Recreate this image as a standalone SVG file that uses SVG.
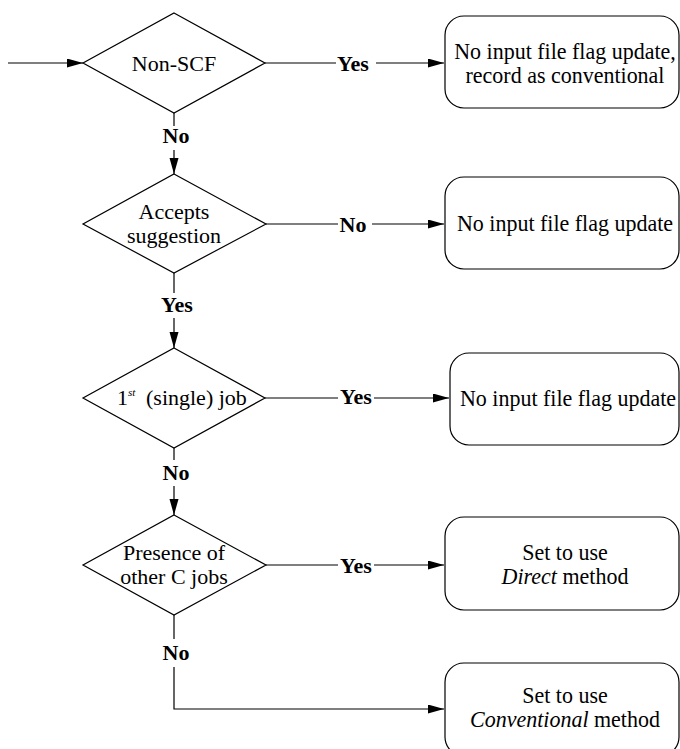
<svg xmlns="http://www.w3.org/2000/svg" width="680" height="749" viewBox="0 0 680 749">
<defs>
<marker id="arr" markerUnits="userSpaceOnUse" markerWidth="16" markerHeight="10" refX="16" refY="4.5" orient="auto">
<path d="M0,0 L16,4.5 L0,9 z" fill="#000"/>
</marker>
<style>
.shape{fill:#fff;stroke:#000;stroke-width:1.2}
.ln{fill:none;stroke:#000;stroke-width:1.2}
.t{font-family:"Liberation Serif","Times New Roman",serif;font-size:22px;fill:#000}
.c{text-anchor:middle}
.lb{font-family:"Liberation Serif","Times New Roman",serif;font-size:22px;font-weight:bold;fill:#000;text-anchor:middle}
</style>
</defs>
<rect width="680" height="749" fill="#fff"/>
<g id="connectors">
<line class="ln" x1="8" y1="63" x2="83" y2="63" marker-end="url(#arr)"/>
<line class="ln" x1="265" y1="63" x2="336" y2="63"/>
<line class="ln" x1="376" y1="63" x2="444" y2="63" marker-end="url(#arr)"/>
<line class="ln" x1="174" y1="113" x2="174" y2="126"/>
<line class="ln" x1="174" y1="150" x2="174" y2="174" marker-end="url(#arr)"/>
<line class="ln" x1="266" y1="224" x2="338" y2="224"/>
<line class="ln" x1="372" y1="224" x2="444" y2="224" marker-end="url(#arr)"/>
<line class="ln" x1="174" y1="273" x2="174" y2="293"/>
<line class="ln" x1="174" y1="318" x2="174" y2="348" marker-end="url(#arr)"/>
<line class="ln" x1="265" y1="398" x2="338" y2="398"/>
<line class="ln" x1="374" y1="398" x2="449" y2="398" marker-end="url(#arr)"/>
<line class="ln" x1="174" y1="448" x2="174" y2="460"/>
<line class="ln" x1="174" y1="486" x2="174" y2="515" marker-end="url(#arr)"/>
<line class="ln" x1="266" y1="565" x2="338" y2="565"/>
<line class="ln" x1="374" y1="565" x2="444" y2="565" marker-end="url(#arr)"/>
<line class="ln" x1="174" y1="615" x2="174" y2="639"/>
<polyline class="ln" points="174,667 174,709 444,709" marker-end="url(#arr)"/>
<text class="lb" x="353" y="71">Yes</text>
<text class="lb" x="176" y="143">No</text>
<text class="lb" x="353" y="232">No</text>
<text class="lb" x="177" y="312">Yes</text>
<text class="lb" x="356" y="404">Yes</text>
<text class="lb" x="176" y="480">No</text>
<text class="lb" x="356" y="573">Yes</text>
<text class="lb" x="176" y="660">No</text>
</g>
<g id="d1">
<polygon class="shape" points="174,13 265,63 174,113 83,63"/>
<text class="t c" x="174" y="71">Non-SCF</text>
</g>
<g id="b1">
<rect class="shape" x="445" y="16" width="234" height="92" rx="19"/>
<text class="t c" transform="translate(565,59) scale(1,1.08)">No input file flag update,</text>
<text class="t c" transform="translate(565,83) scale(1,1.08)">record as conventional</text>
</g>
<g id="d2">
<polygon class="shape" points="174,174 266,224 174,273 83,224"/>
<text class="t c" x="174" y="219">Accepts</text>
<text class="t c" x="174" y="243">suggestion</text>
</g>
<g id="b2">
<rect class="shape" x="445" y="177" width="234" height="92" rx="19"/>
<text class="t c" transform="translate(565,231) scale(1,1.08)">No input file flag update</text>
</g>
<g id="d3">
<polygon class="shape" points="174,348 265,398 174,448 83,398"/>
<text class="t" x="117" y="405">1<tspan font-size="11" font-style="italic" dy="-9">st</tspan><tspan x="146" dy="9">(single) job</tspan></text>
</g>
<g id="b3">
<rect class="shape" x="450" y="353" width="229" height="92" rx="19"/>
<text class="t c" transform="translate(568,406) scale(1,1.08)">No input file flag update</text>
</g>
<g id="d4">
<polygon class="shape" points="174,515 266,565 174,615 83,565"/>
<text class="t c" x="174" y="560">Presence of</text>
<text class="t c" x="174" y="584">other C jobs</text>
</g>
<g id="b4">
<rect class="shape" x="445" y="517" width="234" height="93" rx="19"/>
<text class="t c" transform="translate(565,560) scale(1,1.08)">Set to use</text>
<text class="t c" transform="translate(565,584) scale(1,1.08)"><tspan font-style="italic">Direct</tspan> method</text>
</g>
<g id="b5">
<rect class="shape" x="445" y="663" width="234" height="93" rx="19"/>
<text class="t c" transform="translate(565,703) scale(1,1.08)">Set to use</text>
<text class="t c" transform="translate(565,727) scale(1,1.08)"><tspan font-style="italic">Conventional</tspan> method</text>
</g>
</svg>
